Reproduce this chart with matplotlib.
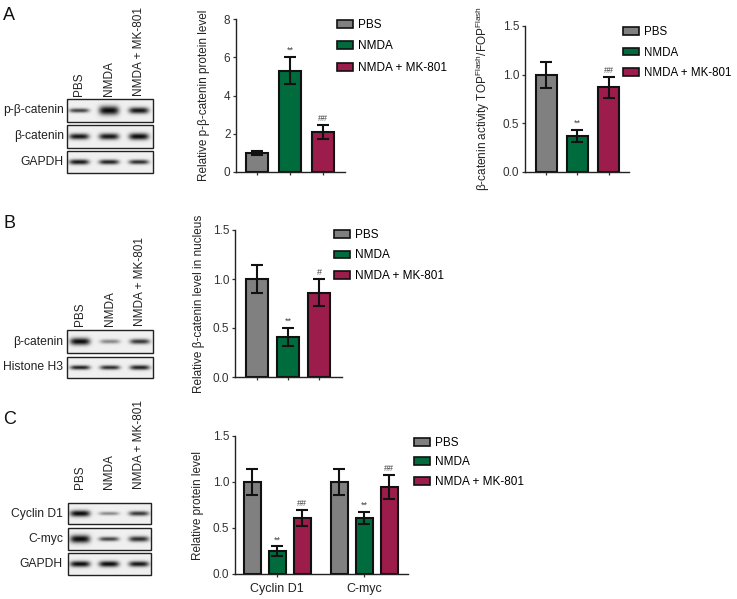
import numpy as np
import matplotlib
matplotlib.use('Agg')
import matplotlib.pyplot as plt
from matplotlib.patches import Rectangle, Patch

plt.rcParams['font.family'] = ['Liberation Sans', 'DejaVu Sans']
plt.rcParams['mathtext.fontset'] = 'custom'
plt.rcParams['mathtext.rm'] = 'Liberation Sans'

W, H = 737, 599

# ---- data ----
groups = ['PBS', 'NMDA', 'NMDA + MK-801']
colors = ['#808080', '#006b3d', '#9c1c4c']

a1_mean = [1.0, 5.3, 2.1]
a1_err = [0.12, 0.72, 0.35]
a1_sig = ['', '**', '##']

a2_mean = [1.0, 0.37, 0.87]
a2_err = [0.135, 0.06, 0.105]
a2_sig = ['', '**', '##']

b_mean = [1.0, 0.41, 0.86]
b_err = [0.145, 0.09, 0.135]
b_sig = ['', '**', '#']

c_proteins = ['Cyclin D1', 'C-myc']
c_mean = [[1.0, 0.25, 0.61], [1.0, 0.61, 0.945]]
c_err = [[0.14, 0.05, 0.09], [0.14, 0.065, 0.13]]
c_sig = [['', '**', '##'], ['', '**', '##']]

# blot band intensities (per lane) and band thickness
blot_a_rows = ['p-β-catenin', 'β-catenin', 'GAPDH']
blot_a_int = [[0.75, 1.0, 0.95], [0.95, 0.95, 1.0], [0.95, 0.9, 0.85]]
blot_a_thk = [[2.2, 4.5, 3.2], [3.0, 3.2, 3.4], [2.6, 2.4, 2.3]]
blot_b_rows = ['β-catenin', 'Histone H3']
blot_b_int = [[1.0, 0.45, 0.8], [0.9, 0.85, 0.9]]
blot_b_thk = [[3.6, 2.2, 2.6], [2.2, 2.2, 2.4]]
blot_c_rows = ['Cyclin D1', 'C-myc', 'GAPDH']
blot_c_int = [[1.0, 0.45, 0.8], [1.0, 0.75, 0.85], [1.0, 1.0, 0.95]]
blot_c_thk = [[3.2, 1.8, 2.4], [4.0, 2.2, 2.8], [3.0, 3.0, 2.8]]

fig = plt.figure(figsize=(W / 100, H / 100), dpi=100)

# overlay in pixel coordinates for blots and panel letters
ov = fig.add_axes([0, 0, 1, 1])
ov.set_xlim(0, W)
ov.set_ylim(H, 0)
ov.axis('off')


def blot(x0, x1, boxes, lanes, ints, thks, names, label_x):
    for (y0, y1), inten, thk, name in zip(boxes, ints, thks, names):
        xs = np.linspace(x0, x1, 200)
        ys = np.linspace(y0, y1, 60)
        X, Y = np.meshgrid(xs, ys)
        yc = (y0 + y1) / 2
        img = np.full(X.shape, 0.94)
        for lc, it, tk in zip(lanes, inten, thk):
            img -= it * 0.9 * np.exp(-((X - lc) / 10.0) ** 4) * np.exp(-((Y - yc) / tk) ** 2)
        img = np.clip(img, 0, 1)
        ov.imshow(img, cmap='gray', vmin=0, vmax=1, extent=[x0, x1, y1, y0],
                  aspect='auto', interpolation='bilinear')
        ov.add_patch(Rectangle((x0, y0), x1 - x0, y1 - y0, fill=False,
                               edgecolor='#222222', linewidth=1.0))
        ov.text(label_x, yc, name, ha='right', va='center', fontsize=8.7, color='#222222')


def lane_labels(lanes, ybottom):
    for lc, g in zip(lanes, groups):
        ov.text(lc, ybottom, g, rotation=90, ha='center', va='bottom',
                fontsize=8.5, color='#222222')


lanes_a = [79, 109, 139]
blot(67, 153, [(99, 122), (125, 148), (151, 173)], lanes_a, blot_a_int, blot_a_thk,
     blot_a_rows, 64)
lane_labels(lanes_a, 96)

lanes_b = [80, 110, 140]
blot(67, 153, [(330, 353), (357, 378)], lanes_b, blot_b_int, blot_b_thk,
     blot_b_rows, 63)
lane_labels(lanes_b, 326)

lanes_c = [80, 109, 139]
blot(68, 151, [(503, 524), (528, 550), (553, 575)], lanes_c, blot_c_int, blot_c_thk,
     blot_c_rows, 63)
lane_labels(lanes_c, 489)

for letter, (lx, ly) in zip('ABC', [(9, 15), (9.5, 223), (9.5, 419)]):
    ov.text(lx, ly, letter, ha='center', va='center', fontsize=13, color='#111111')


def px_axes(left, right, top, bottom):
    return fig.add_axes([left / W, (H - bottom) / H, (right - left) / W, (bottom - top) / H])


def style(ax):
    for s in ['top', 'right']:
        ax.spines[s].set_visible(False)
    for s in ['left', 'bottom']:
        ax.spines[s].set_linewidth(1.0)
        ax.spines[s].set_color('#222222')
    ax.tick_params(axis='both', length=2.5, width=0.9, pad=1.5, color='#333333',
                   labelsize=8.5, labelcolor='#333333')


def bars(ax, xpos, means, errs, sigs, width):
    ax.bar(xpos, means, width=width, color=colors, edgecolor='#111111', linewidth=1.5, zorder=2)
    ax.errorbar(xpos, means, yerr=errs, fmt='none', ecolor='#111111', elinewidth=1.5,
                capsize=4, capthick=1.5, zorder=3)
    for x, m, e, s in zip(xpos, means, errs, sigs):
        if s:
            ax.annotate(s, (x, m + e), xytext=(0, 1.5), textcoords='offset points',
                        ha='center', va='bottom', fontsize=6.5, color='#444444')


def legend(ax, x, y, spacing, fs=8.5):
    handles = [Patch(facecolor=c, edgecolor='#111111', linewidth=1.2) for c in colors]
    ax.legend(handles, groups, loc='upper left', bbox_to_anchor=(x / W, 1 - y / H),
              bbox_transform=fig.transFigure, frameon=False, fontsize=fs,
              handlelength=1.35, handleheight=0.62, handletextpad=0.45,
              labelspacing=spacing, borderpad=0, borderaxespad=0)


x3 = np.arange(3)

# A1
ax = px_axes(236, 345, 19, 172)
bars(ax, x3, a1_mean, a1_err, a1_sig, 0.67)
ax.set_xlim(-0.64, 2.66)
ax.set_ylim(0, 8)
ax.set_yticks([0, 2, 4, 6, 8])
ax.set_xticks(x3)
ax.set_xticklabels(['', '', ''])
style(ax)
ax.set_ylabel('Relative p-β-catenin protein level', fontsize=8.5, color='#222222')
ax.yaxis.set_label_coords(-0.24, 0.5)
legend(ax, 337, 19, 0.8)

# A2
ax = px_axes(525, 629, 26, 172)
bars(ax, x3, a2_mean, a2_err, a2_sig, 0.68)
ax.set_xlim(-0.69, 2.66)
ax.set_ylim(0, 1.5)
ax.set_yticks([0, 0.5, 1.0, 1.5])
ax.set_yticklabels(['0.0', '0.5', '1.0', '1.5'])
ax.set_xticks(x3)
ax.set_xticklabels(['', '', ''])
style(ax)
ax.set_ylabel(r'β-catenin activity TOP$^{\mathrm{Flash}}$/FOP$^{\mathrm{Flash}}$',
              fontsize=8.5, color='#222222')
ax.yaxis.set_label_coords(-0.32, 0.5)
legend(ax, 623, 26, 0.75, fs=8.3)

# B
ax = px_axes(235, 342, 230, 377)
bars(ax, x3, b_mean, b_err, b_sig, 0.7)
ax.set_xlim(-0.71, 2.74)
ax.set_ylim(0, 1.5)
ax.set_yticks([0, 0.5, 1.0, 1.5])
ax.set_yticklabels(['0.0', '0.5', '1.0', '1.5'])
ax.set_xticks(x3)
ax.set_xticklabels(['', '', ''])
style(ax)
ax.set_ylabel('Relative β-catenin level in nucleus', fontsize=8.5, color='#222222')
ax.yaxis.set_label_coords(-0.28, 0.5)
legend(ax, 334, 229, 0.72)

# C
ax = px_axes(235, 408, 436, 574)
gc = np.array([0, 3.48])
for g, m, e, s in zip(gc, c_mean, c_err, c_sig):
    bars(ax, g + np.array([-1, 0, 1]), m, e, s, 0.68)
ax.set_xlim(-1.68, 5.24)
ax.set_ylim(0, 1.5)
ax.set_yticks([0, 0.5, 1.0, 1.5])
ax.set_yticklabels(['0.0', '0.5', '1.0', '1.5'])
ax.set_xticks(gc)
ax.set_xticklabels(c_proteins)
style(ax)
ax.tick_params(axis='x', labelsize=9, labelcolor='#222222', pad=4)
ax.set_ylabel('Relative protein level', fontsize=8.5, color='#222222')
ax.yaxis.set_label_coords(-0.18, 0.5)
legend(ax, 414, 437, 0.63)

fig.savefig('out.png', dpi=100)
